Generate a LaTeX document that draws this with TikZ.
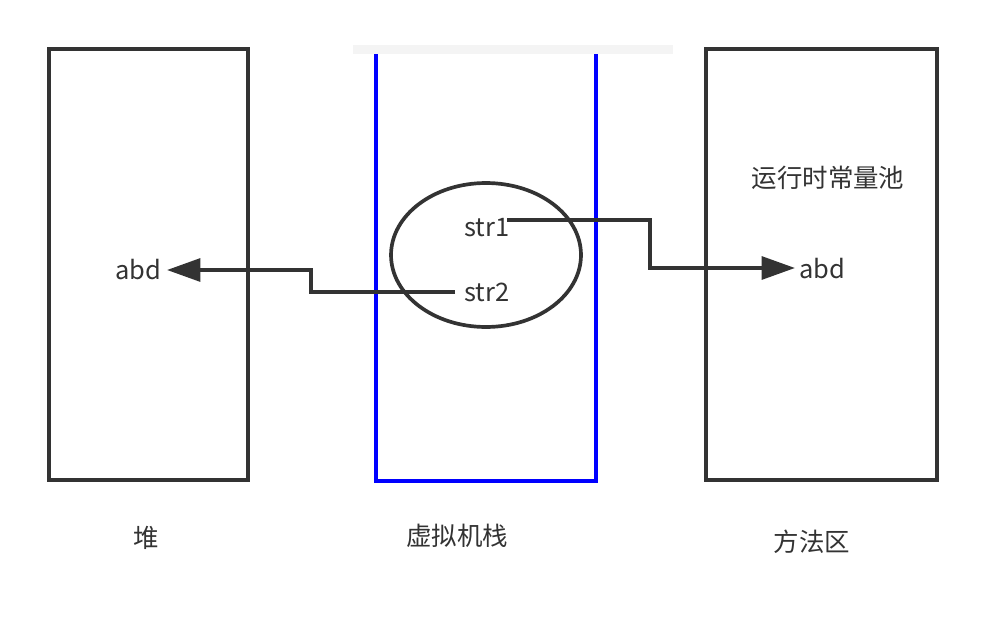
\documentclass[tikz,border=0pt]{standalone}
\usepackage{fontspec}
\setmainfont{Noto Sans CJK SC}
\usetikzlibrary{arrows.meta,shapes.geometric}
\definecolor{ink}{HTML}{333333}
\definecolor{barc}{HTML}{F4F4F4}
\definecolor{stackblue}{HTML}{0000FF}
\tikzset{
  box/.style={draw=ink, line width=2.1pt},
  conn/.style={draw=ink, line width=2.1pt, -{Triangle[length=19pt,width=13pt]}},
  txt/.style={text=ink, inner sep=0pt, font=\fontsize{14.5}{17}\selectfont},
}
\begin{document}
\begin{tikzpicture}[x=0.02cm,y=-0.02cm]
\useasboundingbox (0,0) rectangle (987,622);
% heap
\draw[box] (49,49) rectangle (248,480);
% method area
\draw[box] (706,49) rectangle (937,480);
% stack
\fill[barc] (353,45) rectangle (673,54);
\draw[stackblue, line width=2.1pt] (376,54) -- (376,481) -- (596,481) -- (596,54);
% ellipse
\node[draw=ink, line width=2.1pt, ellipse, minimum width=3.8cm, minimum height=2.88cm, inner sep=0pt] (ell) at (486,255) {};
% texts
\node[txt] (str1) at (487,228) {str1};
\node[txt] (str2) at (487,292) {str2};
\node[txt] (abdL) at (138,270) {abd};
\node[txt] (abdR) at (822,269) {abd};
\node[txt] (pool) at (828,178) {运行时常量池};
\node[txt] (heap) at (146,538) {堆};
\node[txt] (stack) at (457,536) {虚拟机栈};
\node[txt] (method) at (812,542) {方法区};
% connectors
\coordinate (s2) at (455,292);
\coordinate (b1) at (311,292);
\coordinate (tipL) at (167,270);
\draw[conn] (s2) -- (b1) |- (tipL);
\coordinate (s1) at (507,220);
\coordinate (b2) at (650,220);
\coordinate (tipR) at (795,268);
\draw[conn] (s1) -- (b2) |- (tipR);
\end{tikzpicture}
\end{document}
